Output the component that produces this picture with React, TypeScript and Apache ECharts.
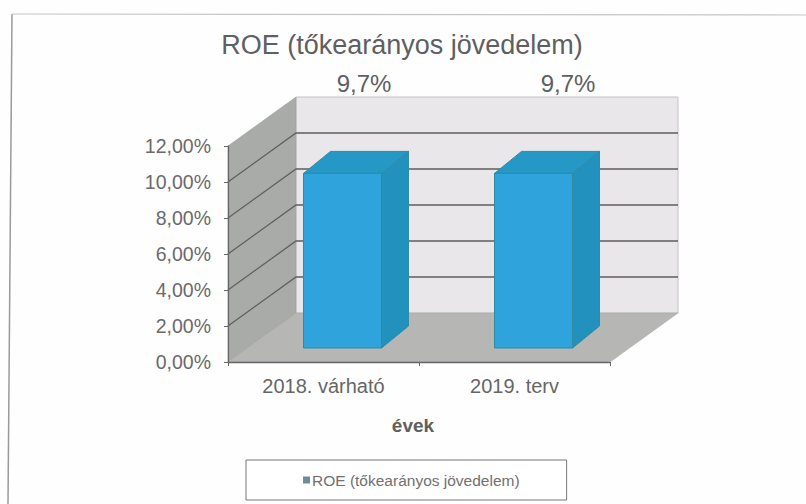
import React, { useEffect, useRef } from "react";
import * as echarts from "echarts";

const titleText = "ROE (tőkearányos jövedelem)";
const categories = ["2018. várható", "2019. terv"];
const roeValues = [9.7, 9.7];
const valueLabels = ["9,7%", "9,7%"];
const gridTicks = [2, 4, 6, 8, 10, 12];
const axisName = "évek";

const FONT = '"Liberation Sans", Arial, sans-serif';
const WALL_DX = 68;
const WALL_DY = -49;

export default function App() {
  const ref = useRef<HTMLDivElement>(null);
  useEffect(() => {
    if (!ref.current) return;
    const chart = echarts.init(ref.current, undefined, { renderer: "svg" });

    const renderWalls = (_p: any, api: any) => {
      const band = api.size([1, 0])[0];
      const c0 = api.coord([0, 0]);
      const l = c0[0] - band / 2;
      const r = l + 2 * band;
      const b = c0[1];
      const t = api.coord([0, 12])[1];
      const children: any[] = [
        { type: "polygon", shape: { points: [[l + WALL_DX, t + WALL_DY], [r + WALL_DX, t + WALL_DY], [r + WALL_DX, b + WALL_DY], [l + WALL_DX, b + WALL_DY]] }, style: { fill: "#eae7ea", stroke: "#c4c3c4", lineWidth: 1 } },
        { type: "polygon", shape: { points: [[l, t], [l + WALL_DX, t + WALL_DY], [l + WALL_DX, b + WALL_DY], [l, b]] }, style: { fill: "#a9aba8", stroke: "#9a9c99", lineWidth: 0.5 } },
        { type: "polygon", shape: { points: [[l, b], [r, b], [r + WALL_DX, b + WALL_DY], [l + WALL_DX, b + WALL_DY]] }, style: { fill: "#b6b6b4", stroke: "#a3a3a1", lineWidth: 0.5 } },
      ];
      gridTicks.forEach((v) => {
        if (v === 12) return;
        const y = api.coord([0, v])[1];
        children.push({ type: "polyline", shape: { points: [[l, y], [l + WALL_DX, y + WALL_DY], [r + WALL_DX, y + WALL_DY]] }, style: { fill: "none", stroke: "#5f5f5f", lineWidth: 1.3 } });
      });
      return { type: "group", children };
    };

    const renderBar = (_p: any, api: any) => {
      const top = api.coord([api.value(0), api.value(1)]);
      const base = api.coord([api.value(0), 0]);
      const w = 78, ox = 19, oy = -14, dx = 27, dy = -22;
      const x0 = top[0] + ox - w / 2, x1 = x0 + w;
      const yt = top[1] + oy, yb = base[1] + oy;
      const stroke = "#2f8aa3";
      return {
        type: "group",
        children: [
          { type: "polygon", shape: { points: [[x1, yt], [x1 + dx, yt + dy], [x1 + dx, yb + dy], [x1, yb]] }, style: { fill: "#2391bd", stroke, lineWidth: 1 } },
          { type: "polygon", shape: { points: [[x0, yt], [x0 + dx, yt + dy], [x1 + dx, yt + dy], [x1, yt]] }, style: { fill: "#2698c6", stroke, lineWidth: 1 } },
          { type: "rect", shape: { x: x0, y: yt, width: w, height: yb - yt }, style: { fill: "#2ea3dc", stroke, lineWidth: 1 } },
        ],
      };
    };

    chart.setOption({
      animation: false,
      backgroundColor: "#fefefe",
      title: { text: titleText, left: 397, top: 26, textAlign: "center", textStyle: { fontFamily: FONT, fontWeight: "normal", fontSize: 27, color: "#5f5f61" } },
      legend: {
        left: 246, top: 460, orient: "horizontal", padding: [12, 47, 12, 57],
        borderColor: "#777", borderWidth: 1, backgroundColor: "#ffffff",
        icon: "rect", itemWidth: 7, itemHeight: 7, itemGap: 0,
        textStyle: { fontFamily: FONT, fontSize: 15.5, color: "#707070", padding: [0, 0, 0, -3] },
        data: [{ name: titleText, itemStyle: { color: "#6f8d99" } }],
      },
      grid: { left: 228, top: 146, width: 382, height: 216, containLabel: false },
      xAxis: {
        type: "category", data: categories, z: 5, name: axisName, nameLocation: "middle", nameGap: 54,
        nameTextStyle: { fontFamily: FONT, fontWeight: "bold", fontSize: 19, color: "#5f5f5f", padding: [0, 12, 0, 0] },
        axisLine: { lineStyle: { color: "#666", width: 1.3 } },
        axisTick: { show: true, length: 4, lineStyle: { color: "#666" } },
        axisLabel: { margin: 14, fontFamily: FONT, fontSize: 20, color: "#666" },
      },
      yAxis: {
        type: "value", min: 0, max: 12, interval: 2, z: 5,
        splitLine: { show: false },
        axisLine: { show: true, lineStyle: { color: "#666", width: 1.3 } },
        axisTick: { show: true, length: 4, lineStyle: { color: "#666" } },
        axisLabel: { margin: 17, fontFamily: FONT, fontSize: 19.5, color: "#6a6a6a", formatter: (v: number) => v.toFixed(2).replace(".", ",") + "%" },
      },
      series: [
        { type: "custom", silent: true, renderItem: renderWalls, data: [[0, 0]], encode: { x: 0, y: 1 }, z: 1 },
        { type: "custom", name: titleText, renderItem: renderBar, data: categories.map((_, i) => [i, roeValues[i]]), encode: { x: 0, y: 1 }, itemStyle: { color: "#2ea3dc" }, z: 2 },
      ],
      graphic: [
        { type: "line", silent: true, shape: { x1: 12, y1: 14, x2: 8, y2: 504 }, style: { stroke: "#9a9a9a", lineWidth: 1.5 } },
        { type: "line", silent: true, shape: { x1: 12, y1: 14, x2: 806, y2: 15 }, style: { stroke: "#c6c4c8", lineWidth: 1.2 } },
        { type: "text", silent: true, x: 364, y: 83, style: { text: valueLabels[0], align: "center", verticalAlign: "middle", font: `24px ${FONT}`, fill: "#5f5f61" } },
        { type: "text", silent: true, x: 568, y: 83, style: { text: valueLabels[1], align: "center", verticalAlign: "middle", font: `24px ${FONT}`, fill: "#5f5f61" } },
      ],
    });
    return () => chart.dispose();
  }, []);
  return <div ref={ref} style={{ position: "absolute", left: 0, top: 0, width: 806, height: 504 }} />;
}
